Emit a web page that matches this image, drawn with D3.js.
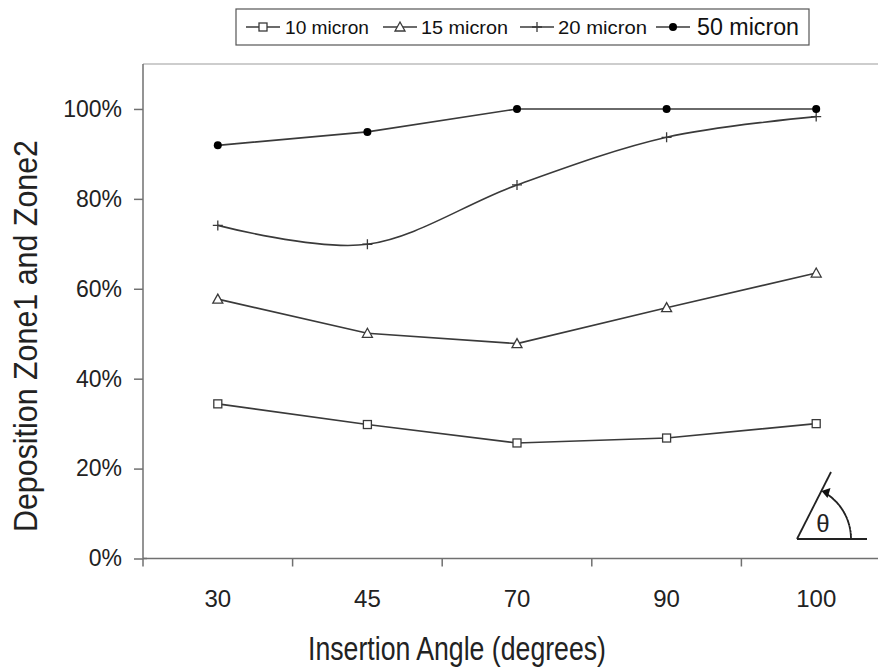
<!DOCTYPE html>
<html>
<head>
<meta charset="utf-8">
<script src="https://cdn.jsdelivr.net/npm/d3@7/dist/d3.min.js"></script>
<style>
  html, body { margin: 0; padding: 0; background: #fff; }
  svg { display: block; font-family: "Liberation Sans", Arial, sans-serif; }
  .y-axis .tick text { font-size: 23px; font-family: "Liberation Sans", Arial, sans-serif; fill: #222; }
  .x-axis .tick text { font-size: 24px; font-family: "Liberation Sans", Arial, sans-serif; fill: #222; }
</style>
</head>
<body>
<svg id="chart" width="878" height="671"></svg>
<script>
// Insertion angle categories (x axis)
const angles = ["30", "45", "70", "90", "100"];

// Deposition fraction in Zone1 + Zone2 per particle size
const micron10 = [0.344, 0.298, 0.257, 0.268, 0.300];
const micron15 = [0.577, 0.501, 0.478, 0.558, 0.635];
const micron20 = [0.741, 0.699, 0.831, 0.937, 0.983];
const micron50 = [0.919, 0.949, 1.000, 1.000, 1.000];

const seriesNames = ["10 micron", "15 micron", "20 micron", "50 micron"];
const yTicks = [0, 0.2, 0.4, 0.6, 0.8, 1.0];

const series = [
  { name: seriesNames[0], values: micron10, marker: "square",   smooth: false },
  { name: seriesNames[1], values: micron15, marker: "triangle", smooth: false },
  { name: seriesNames[2], values: micron20, marker: "plus",     smooth: true  },
  { name: seriesNames[3], values: micron50, marker: "circle",   smooth: false }
];

(function () {
const svg = d3.select("#chart");
const plotLeft = 143, plotTop = 64, plotBottom = 558.5;
const bandW = 149.6;

const x = d3.scaleBand().domain(angles).range([plotLeft, plotLeft + bandW * angles.length]).padding(0);
const y = d3.scaleLinear().domain([0, 1.1]).range([plotBottom, plotTop]);

const lineColor = "#3a3a3a";
const axisColor = "#707070";

// top frame line
svg.append("line")
  .attr("x1", plotLeft).attr("x2", 878)
  .attr("y1", y(1.1)).attr("y2", y(1.1))
  .attr("stroke", "#bdbdbd").attr("stroke-width", 1.5);

// y axis
const yAxis = svg.append("g")
  .attr("class", "y-axis")
  .attr("transform", `translate(${plotLeft},0)`)
  .call(d3.axisLeft(y).tickValues(yTicks).tickFormat(d3.format(".0%")).tickSize(9).tickPadding(12));
yAxis.select(".domain").attr("stroke", axisColor).attr("stroke-width", 1.5)
  .attr("d", `M0,${plotBottom}V${plotTop}`);
yAxis.selectAll(".tick line").attr("stroke", axisColor).attr("stroke-width", 1.5);
// small cross at the origin
svg.append("line").attr("x1", plotLeft).attr("x2", plotLeft + 4)
  .attr("y1", plotBottom).attr("y2", plotBottom).attr("stroke", axisColor).attr("stroke-width", 1.5);

// x axis: labels centred in bands, ticks at band boundaries
const xAxis = svg.append("g")
  .attr("class", "x-axis")
  .attr("transform", `translate(0,${plotBottom})`)
  .call(d3.axisBottom(x).tickSize(0).tickPadding(31));
xAxis.select(".domain").remove();
svg.append("line")
  .attr("x1", plotLeft).attr("x2", 878)
  .attr("y1", plotBottom).attr("y2", plotBottom)
  .attr("stroke", axisColor).attr("stroke-width", 1.5);
svg.append("g").selectAll("line")
  .data(angles)
  .join("line")
  .attr("x1", d => x(d)).attr("x2", d => x(d))
  .attr("y1", plotBottom).attr("y2", plotBottom + 8)
  .attr("stroke", axisColor).attr("stroke-width", 1.5);

// axis titles (narrow lettering)
svg.append("text")
  .attr("x", 457).attr("y", 660)
  .attr("text-anchor", "middle")
  .attr("font-size", 34).attr("fill", "#222")
  .attr("textLength", 298).attr("lengthAdjust", "spacingAndGlyphs")
  .text("Insertion Angle (degrees)");
svg.append("text")
  .attr("transform", "translate(37,336) rotate(-90)")
  .attr("text-anchor", "middle")
  .attr("font-size", 33).attr("fill", "#222")
  .attr("textLength", 392).attr("lengthAdjust", "spacingAndGlyphs")
  .text("Deposition Zone1 and Zone2");

// marker drawing
function drawMarker(g, type, cx, cy) {
  if (type === "square") {
    g.append("rect").attr("x", cx - 4).attr("y", cy - 4).attr("width", 8).attr("height", 8)
      .attr("fill", "#fff").attr("stroke", lineColor).attr("stroke-width", 1.3);
  } else if (type === "triangle") {
    g.append("path").attr("d", `M${cx},${cy - 5}L${cx + 5},${cy + 4}L${cx - 5},${cy + 4}Z`)
      .attr("fill", "#fff").attr("stroke", lineColor).attr("stroke-width", 1.3);
  } else if (type === "plus") {
    g.append("path").attr("d", `M${cx - 5},${cy}H${cx + 5}M${cx},${cy - 5}V${cy + 5}`)
      .attr("stroke", lineColor).attr("stroke-width", 1.3);
  } else {
    g.append("circle").attr("cx", cx).attr("cy", cy).attr("r", 4)
      .attr("fill", "#000");
  }
}

const cx = d => x(d) + x.bandwidth() / 2;

series.forEach(s => {
  const pts = angles.map((a, i) => [cx(a), y(s.values[i])]);
  const line = d3.line().curve(s.smooth ? d3.curveCatmullRom.alpha(0) : d3.curveLinear);
  svg.append("path")
    .attr("d", line(pts))
    .attr("fill", "none")
    .attr("stroke", lineColor)
    .attr("stroke-width", 1.6);
  const g = svg.append("g");
  pts.forEach(p => drawMarker(g, s.marker, p[0], p[1]));
});

// legend
const legend = svg.append("g");
legend.append("rect")
  .attr("x", 236).attr("y", 9).attr("width", 573).attr("height", 36)
  .attr("fill", "#fff").attr("stroke", "#555").attr("stroke-width", 1.2);
const legendItems = [
  { lineX: 246, textX: 285, textLen: 84,  size: 19 },
  { lineX: 383, textX: 421, textLen: 87,  size: 19 },
  { lineX: 520, textX: 558, textLen: 89,  size: 19 },
  { lineX: 656, textX: 697, textLen: 102, size: 23 }
];
series.forEach((s, i) => {
  const it = legendItems[i];
  const ly = 27;
  legend.append("line")
    .attr("x1", it.lineX).attr("x2", it.lineX + 34)
    .attr("y1", ly).attr("y2", ly)
    .attr("stroke", lineColor).attr("stroke-width", 1.5);
  drawMarker(legend, s.marker, it.lineX + 17, ly);
  legend.append("text")
    .attr("x", it.textX).attr("y", ly + it.size * 0.36)
    .attr("font-size", it.size).attr("fill", "#111")
    .attr("textLength", it.textLen).attr("lengthAdjust", "spacingAndGlyphs")
    .text(s.name);
});

// insertion angle sketch in the lower right corner
const icon = svg.append("g").attr("stroke", "#222").attr("fill", "none").attr("stroke-width", 1.8);
const ox = 797, oy = 539;
icon.append("line").attr("x1", ox).attr("y1", oy).attr("x2", 867).attr("y2", oy);
icon.append("line").attr("x1", ox).attr("y1", oy).attr("x2", 831).attr("y2", 472);
const r = 54;
const a1 = 63 * Math.PI / 180;
icon.append("path")
  .attr("d", d3.arc()({ innerRadius: r, outerRadius: r, startAngle: Math.PI / 2, endAngle: Math.PI / 2 - a1 + 0.12 }))
  .attr("transform", `translate(${ox},${oy})`)
  .attr("stroke-dasharray", "5,2");
// arrow head at the end of the arc
const ax = ox + r * Math.cos(a1), ay = oy - r * Math.sin(a1);
svg.append("path")
  .attr("d", `M${ax},${ay}L${ax + 9},${ay - 3}L${ax + 6},${ay + 7}Z`)
  .attr("fill", "#111");
svg.append("text")
  .attr("x", 823).attr("y", 532)
  .attr("text-anchor", "middle")
  .attr("font-size", 24).attr("fill", "#222")
  .text("θ");
})();
</script>
</body>
</html>
